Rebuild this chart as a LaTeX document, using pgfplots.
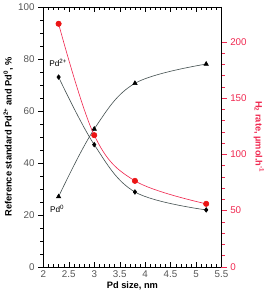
\documentclass[border=0pt]{standalone}
\usepackage{pgfplots}
\pgfplotsset{compat=1.18}
\usepackage{fontspec}
\setmainfont{Liberation Sans}
\definecolor{rr}{RGB}{240,40,80}
\definecolor{mk}{RGB}{235,20,20}
\definecolor{ln}{RGB}{70,82,82}
\definecolor{tk}{RGB}{85,85,85}
\begin{document}
\begin{tikzpicture}[font=\fontsize{9}{10}\selectfont]
\begin{axis}[scale only axis, width=172bp, height=251bp,
  xmin=2, xmax=5.5, ymin=0, ymax=100,
  xtick={2,2.5,...,5.5}, minor x tick num=4,
  ytick={0,20,...,100}, minor y tick num=3,
  xtick pos=both, ytick pos=left,
  xtick align=inside, ytick align=outside,
  major tick length=5bp, minor tick length=3bp,
  /pgf/number format/assume math mode=true,
  ticklabel style={text=tk, font=\fontsize{9.5}{10}\selectfont},
  xlabel={\textbf{Pd size, nm}},
  ylabel={\textbf{Reference standard Pd\textsuperscript{2+} and Pd\textsuperscript{0}, \%}},
  xlabel style={yshift=3pt},
  ylabel style={yshift=-2pt},
  axis line style={black}, tick style={black},
]
\addplot[ln, semithick, smooth, tension=0.6, mark=diamond*, mark options={black, fill=black, scale=1.1}] coordinates {(2.3,73) (3.0,47) (3.8,28.8) (5.2,21.9)};
\addplot[ln, semithick, smooth, tension=0.6, mark=triangle*, mark options={black, fill=black, scale=1.2}] coordinates {(2.3,27) (3.0,53) (3.8,70.6) (5.2,78)};
\node[font=\fontsize{8}{9}\selectfont] at (axis cs:2.29,78.5) {Pd\textsuperscript{2+}};
\node[font=\fontsize{8}{9}\selectfont] at (axis cs:2.27,22.3) {Pd\textsuperscript{0}};
\end{axis}
\begin{axis}[scale only axis, width=172bp, height=251bp,
  xmin=2, xmax=5.5, ymin=0, ymax=231,
  hide x axis, axis y line*=right,
  ytick={0,50,...,200}, minor y tick num=4,
  ytick align=outside,
  major tick length=5bp, minor tick length=3bp,
  /pgf/number format/assume math mode=true,
  y axis line style={black}, ytick style={rr}, yticklabel style={text=rr, font=\fontsize{9.5}{10}\selectfont},
  ylabel={\textbf{H\textsubscript{2} rate, µmol.h\textsuperscript{-1}}},
  ylabel style={rr, rotate=180},
]
\addplot[rr, semithick, smooth, tension=0.6, mark=*, mark options={mk, fill=mk, scale=1.3}] coordinates {(2.3,216) (3.0,117) (3.8,76.4) (5.2,56)};
\end{axis}
\end{tikzpicture}
\end{document}
